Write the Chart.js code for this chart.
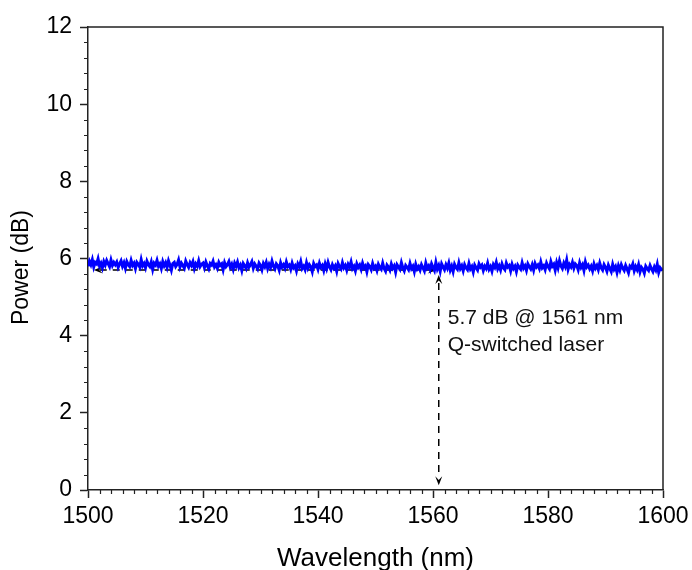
<!DOCTYPE html>
<html>
<head>
<meta charset="utf-8">
<script src="https://cdn.jsdelivr.net/npm/chart.js@4.4.1/dist/chart.umd.min.js"></script>
<style>
html,body{margin:0;padding:0;background:#fff;}
canvas{display:block;}
</style>
</head>
<body>
<canvas id="c" width="692" height="570"></canvas>
<script>
// ---- data ----
const wavelengthStart = 1500;
const wavelengthStep = 0.25;
const power = [
  5.80,5.93,5.84,5.97,5.78,5.90,5.86,5.99,5.81,5.88,
  5.76,5.92,5.83,5.95,5.87,5.79,5.96,5.82,5.90,5.84,
  5.91,5.77,5.86,5.94,5.80,5.89,5.75,5.92,5.84,5.79,
  5.95,5.82,5.88,5.74,5.90,5.85,5.78,5.97,5.81,5.87,
  5.76,5.93,5.84,5.79,5.91,5.72,5.88,5.83,5.95,5.80,
  5.86,5.74,5.92,5.81,5.89,5.77,5.94,5.83,5.70,5.87,
  5.90,5.79,5.85,5.96,5.78,5.88,5.82,5.75,5.93,5.84,
  5.77,5.89,5.82,5.92,5.74,5.86,5.80,5.94,5.79,5.85,
  5.88,5.76,5.91,5.81,5.73,5.87,5.83,5.93,5.78,5.84,
  5.75,5.90,5.82,5.86,5.71,5.89,5.79,5.84,5.92,5.77,
  5.85,5.72,5.88,5.80,5.91,5.76,5.83,5.69,5.87,5.81,
  5.74,5.89,5.78,5.84,5.92,5.75,5.86,5.80,5.73,5.88,
  5.82,5.71,5.87,5.79,5.90,5.74,5.85,5.77,5.93,5.80,
  5.73,5.86,5.81,5.70,5.89,5.78,5.84,5.75,5.91,5.79,
  5.83,5.72,5.88,5.76,5.81,5.68,5.86,5.79,5.92,5.74,
  5.80,5.71,5.89,5.75,5.84,5.78,5.66,5.87,5.79,5.83,
  5.72,5.88,5.77,5.82,5.69,5.86,5.74,5.90,5.78,5.71,
  5.84,5.75,5.81,5.67,5.87,5.79,5.73,5.89,5.76,5.82,
  5.70,5.85,5.78,5.91,5.74,5.80,5.68,5.86,5.77,5.83,
  5.72,5.88,5.76,5.81,5.66,5.84,5.79,5.71,5.87,5.75,
  5.80,5.69,5.85,5.77,5.72,5.88,5.74,5.67,5.83,5.78,
  5.70,5.86,5.75,5.81,5.65,5.84,5.78,5.72,5.89,5.76,
  5.68,5.82,5.77,5.71,5.87,5.74,5.80,5.66,5.85,5.73,
  5.79,5.70,5.84,5.76,5.68,5.88,5.75,5.81,5.71,5.86,
  5.77,5.69,5.90,5.73,5.82,5.67,5.86,5.78,5.71,5.84,
  5.75,5.88,5.70,5.80,5.66,5.85,5.77,5.72,5.89,5.74,
  5.81,5.68,5.84,5.76,5.71,5.87,5.73,5.79,5.65,5.83,
  5.76,5.70,5.86,5.78,5.83,5.69,5.80,5.74,5.88,5.72,
  5.79,5.67,5.84,5.77,5.90,5.73,5.81,5.70,5.86,5.76,
  5.71,5.88,5.78,5.82,5.68,5.85,5.74,5.80,5.66,5.83,
  5.77,5.72,5.89,5.75,5.81,5.69,5.86,5.79,5.73,5.84,
  5.70,5.87,5.78,5.83,5.74,5.91,5.76,5.81,5.71,5.88,
  5.79,5.73,5.92,5.80,5.85,5.70,5.89,5.76,5.94,5.81,
  5.74,5.88,5.79,5.96,5.72,5.84,5.78,5.90,5.75,5.86,
  5.82,5.71,5.89,5.77,5.84,5.69,5.91,5.78,5.83,5.73,
  5.80,5.68,5.86,5.75,5.82,5.71,5.88,5.76,5.70,5.84,
  5.77,5.67,5.83,5.74,5.66,5.85,5.72,5.79,5.64,5.81,
  5.70,5.84,5.75,5.69,5.82,5.73,5.63,5.80,5.76,5.86,
  5.68,5.79,5.71,5.84,5.65,5.77,5.72,5.62,5.80,5.74,
  5.69,5.82,5.73,5.66,5.78,5.70,5.85,5.64,5.76,5.71,
  5.73
];
const xTicks = [1500,1520,1540,1560,1580,1600];
const yTicks = [0,2,4,6,8,10,12];
const markerWavelength = 1561;
const markerPower = 5.7;
const arrowLeftWavelength = 1501;
const arrowTopPower = 5.57;
const arrowBottomPower = 0.12;
const annotationLines = ['5.7 dB @ 1561 nm', 'Q-switched laser'];
const yTitle = 'Power (dB)';
const xTitle = 'Wavelength (nm)';

const points = power.map((p, i) => ({x: wavelengthStart + i * wavelengthStep, y: p}));

const FONT = "'Liberation Sans', Arial, sans-serif";
const AX = '#222';

function arrowHead(ctx, x, y, dx, dy) {
  const len = 9, half = 3.5;
  const bx = x - dx * len, by = y - dy * len;
  const px = -dy, py = dx;
  ctx.beginPath();
  ctx.moveTo(x, y);
  ctx.lineTo(bx + px * half, by + py * half);
  ctx.lineTo(x - dx * len * 0.6, y - dy * len * 0.6);
  ctx.lineTo(bx - px * half, by - py * half);
  ctx.closePath();
  ctx.fill();
}

const decor = {
  id: 'decor',
  beforeDatasetsDraw(chart) {
    const {ctx, scales: {x, y}} = chart;
    ctx.save();
    ctx.strokeStyle = '#000';
    ctx.fillStyle = '#000';
    ctx.lineWidth = 1.5;
    const mx = x.getPixelForValue(markerWavelength);
    const my = y.getPixelForValue(markerPower);
    const lx = x.getPixelForValue(arrowLeftWavelength);
    const ty = y.getPixelForValue(arrowTopPower);
    const by = y.getPixelForValue(arrowBottomPower);
    ctx.setLineDash([7, 6]);
    ctx.beginPath();
    ctx.moveTo(lx + 6, my);
    ctx.lineTo(mx - 8, my);
    ctx.moveTo(mx, ty + 8);
    ctx.lineTo(mx, by - 8);
    ctx.stroke();
    ctx.setLineDash([]);
    arrowHead(ctx, lx, my, -1, 0);
    arrowHead(ctx, mx - 2, my, 1, 0);
    arrowHead(ctx, mx, ty, 0, -1);
    arrowHead(ctx, mx, by, 0, 1);

    ctx.font = "21px " + FONT;
    ctx.fillStyle = '#111';
    ctx.textAlign = 'left';
    ctx.textBaseline = 'alphabetic';
    ctx.fillText(annotationLines[0], mx + 9, y.getPixelForValue(4.3));
    ctx.fillText(annotationLines[1], mx + 9, y.getPixelForValue(3.6));
    ctx.restore();
  },
  afterDatasetsDraw(chart) {
    const {ctx, chartArea: a, scales: {x, y}} = chart;
    ctx.save();
    ctx.strokeStyle = AX;
    ctx.lineWidth = 1.5;
    ctx.beginPath();
    ctx.moveTo(a.left, a.top);
    ctx.lineTo(a.right, a.top);
    ctx.lineTo(a.right, a.bottom);
    ctx.stroke();
    ctx.lineWidth = 1.2;
    ctx.beginPath();
    for (let v = 1500; v <= 1600; v += 2) {
      if (v % 20 === 0) continue;
      const px = Math.round(x.getPixelForValue(v)) + 0.5;
      ctx.moveTo(px, a.bottom);
      ctx.lineTo(px, a.bottom + 4);
    }
    for (let k = 0; k <= 30; k++) {
      if (k % 5 === 0) continue;
      const py = Math.round(y.getPixelForValue(k * 0.4)) + 0.5;
      ctx.moveTo(a.left, py);
      ctx.lineTo(a.left - 4, py);
    }
    ctx.stroke();

    ctx.fillStyle = '#000';
    ctx.textAlign = 'center';
    ctx.textBaseline = 'middle';
    ctx.font = "26px " + FONT;
    ctx.fillText(xTitle, (a.left + a.right) / 2, a.bottom + 69);
    ctx.font = "23px " + FONT;
    ctx.translate(22, (a.top + a.bottom) / 2 + 9);
    ctx.rotate(-Math.PI / 2);
    ctx.fillText(yTitle, 0, 0);
    ctx.restore();
  }
};

new Chart(document.getElementById('c'), {
  type: 'line',
  data: {
    datasets: [{
      data: points,
      borderColor: '#0000ff',
      borderWidth: 3,
      pointRadius: 0,
      tension: 0,
      fill: false
    }]
  },
  options: {
    responsive: false,
    animation: false,
    layout: {padding: {top: 27, right: 29, left: 0, bottom: 0}},
    plugins: {legend: {display: false}, tooltip: {enabled: false}},
    scales: {
      x: {
        type: 'linear',
        min: 1500, max: 1600,
        afterFit(s) { s.height = 80; s.paddingRight = 0; },
        afterBuildTicks(s) { s.ticks = xTicks.map(v => ({value: v})); },
        grid: {display: true, drawOnChartArea: false, drawTicks: true, tickLength: 8, tickColor: AX, tickWidth: 1.5},
        border: {display: true, color: AX, width: 1.5},
        ticks: {color: '#000', font: {family: FONT, size: 23}, padding: 5, maxRotation: 0, autoSkip: false, callback: v => String(v)},
        title: {display: false}
      },
      y: {
        type: 'linear',
        min: 0, max: 12,
        afterFit(s) { s.width = 88; },
        afterBuildTicks(s) { s.ticks = yTicks.map(v => ({value: v})); },
        grid: {display: true, drawOnChartArea: false, drawTicks: true, tickLength: 8, tickColor: AX, tickWidth: 1.5},
        border: {display: true, color: AX, width: 1.5},
        ticks: {color: '#000', font: {family: FONT, size: 23}, padding: 8, autoSkip: false, callback: v => String(v)},
        title: {display: false}
      }
    }
  },
  plugins: [decor]
});
</script>
</body>
</html>
